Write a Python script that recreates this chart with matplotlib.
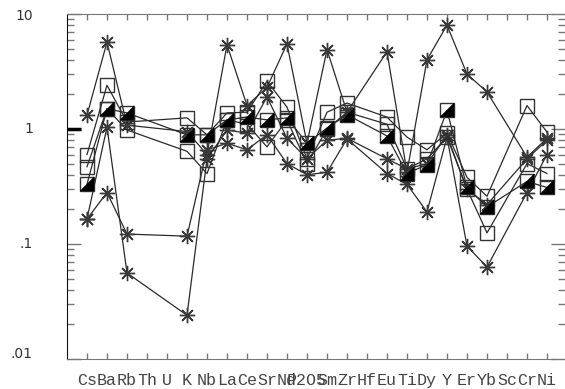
import matplotlib
matplotlib.use("Agg")
import matplotlib.pyplot as plt
import numpy as np
from matplotlib.path import Path
from matplotlib.ticker import LogLocator, NullFormatter

# 元素顺序（Th, U, Hf, Sc 无数据）
categories = ['Cs', 'Ba', 'Rb', 'Th', 'U', 'K', 'Nb', 'La', 'Ce', 'Sr', 'Nd', 'P2O5',
              'Sm', 'Zr', 'Hf', 'Eu', 'Ti', 'Dy', 'Y', 'Er', 'Yb', 'Sc', 'Cr', 'Ni']
N = None

# 空心方块
sq1 = [0.60, 2.4, 1.15, N, N, 1.25, 0.89, 1.38, 1.40, 2.6, 1.55, 0.55,
       1.40, 1.68, N, 1.27, 0.85, 0.66, 0.92, 0.38, 0.26, N, 1.6, 0.94]
sq2 = [0.47, 1.5, 0.98, N, N, 0.64, 0.41, 1.2, 1.1, 0.70, 1.2, 0.50,
       1.0, 1.4, N, 1.1, 0.45, 0.55, 0.85, 0.30, 0.125, N, 0.50, 0.41]
# 半实心方块
hf1 = [0.33, 1.5, 1.38, N, N, 0.89, 0.89, 1.2, 1.27, 1.2, 1.25, 0.75,
       1.02, 1.33, N, 0.87, 0.41, 0.49, 1.45, 0.31, 0.21, N, 0.35, 0.31]
# 星号
st1 = [1.32, 5.7, 1.08, N, N, 0.95, 0.60, 5.4, 1.6, 2.3, 5.5, 0.75,
       4.9, 1.4, N, 4.7, 0.42, 4.0, 8.0, 3.0, 2.1, N, 0.57, 0.83]
st2 = [0.165, 0.28, 0.122, N, N, 0.117, 0.66, 0.75, 0.66, 0.89, 0.50, 0.40,
       0.42, 0.82, N, 0.41, 0.33, 0.19, 0.85, 0.096, 0.063, N, 0.28, 0.60]
st3 = [0.165, 1.04, 0.056, N, N, 0.024, 0.55, 0.98, 0.92, 1.9, 0.83, 0.55,
       0.80, 0.83, N, 0.55, 0.45, 0.50, 0.88, 0.30, 0.22, N, 0.55, 0.80]

yticks = [0.01, 0.1, 1, 10]
ytick_labels = ['.01', '.1', '1', '10']


def valid(vals):
    xs = [i for i, v in enumerate(vals) if v is not None]
    ys = [v for v in vals if v is not None]
    return xs, ys


fig = plt.figure(figsize=(5.65, 3.89), dpi=100)
ax = fig.add_axes([67 / 565, 30 / 389, 498 / 565, 345 / 389])

line_c = '#2a2a2a'
mk_c = '#333333'
ms = 9.5
asterisk = (8, 2, 0)
tri = Path([(-0.5, -0.5), (0.5, -0.5), (0.5, 0.5), (-0.5, -0.5)],
           [Path.MOVETO, Path.LINETO, Path.LINETO, Path.CLOSEPOLY])

for s in [st1, st2, st3]:
    xs, ys = valid(s)
    ax.plot(xs, ys, color=line_c, lw=0.9, marker=asterisk, ms=11, mec='#3a3a3a', mew=1.0)

for s in [sq1, sq2]:
    xs, ys = valid(s)
    ax.plot(xs, ys, color=line_c, lw=0.9, marker='s', ms=ms, mfc='none', mec=mk_c, mew=1.0)

xs, ys = valid(hf1)
ax.plot(xs, ys, color=line_c, lw=0.9, marker='s', ms=ms, mfc='none', mec=mk_c, mew=1.0)
ax.plot(xs, ys, ls='none', marker=tri, ms=ms, mfc='black', mec='black', mew=0.3)

ax.set_yscale('log')
ax.set_ylim(0.01, 10)
ax.set_xlim(-1, 23.9)

ax.yaxis.set_major_locator(LogLocator(base=10))
ax.yaxis.set_minor_locator(LogLocator(base=10, subs=np.arange(2, 10)))
ax.yaxis.set_minor_formatter(NullFormatter())
ax.set_yticks(yticks)
ax.set_yticklabels([])
ax.tick_params(axis='y', which='major', direction='in', length=10, width=1,
               color='#777777', left=True, right=True)
ax.tick_params(axis='y', which='minor', direction='in', length=5, width=1,
               color='#777777', left=True, right=True)
for v, t in zip(yticks, ytick_labels):
    dy = {0.01: 5, 10: -2}.get(v, 0)
    ax.annotate(t, xy=(0, v), xycoords=ax.get_yaxis_transform(),
                xytext=(-34, dy), textcoords='offset pixels',
                ha='right', va='center', fontsize=10, color='#333333',
                family='DejaVu Sans')

ax.set_xticks(range(len(categories)))
ax.set_xticklabels(categories, family='Liberation Mono', fontsize=12, color='#444444')
ax.tick_params(axis='x', direction='in', length=4, width=1, color='#777777',
               top=True, bottom=True, pad=10)

ax.spines['right'].set_visible(False)
ax.spines['left'].set_color('#111111')
for k in ['top', 'bottom']:
    ax.spines[k].set_color('#777777')
    ax.spines[k].set_bounds(-1, 23.3)

# 左侧 1 处的粗标记
ax.plot([0, 14 / 498], [1, 1], transform=ax.get_yaxis_transform(), color='black',
        lw=2.5, solid_capstyle='butt', clip_on=False)

plt.savefig('out.png', dpi=100)
